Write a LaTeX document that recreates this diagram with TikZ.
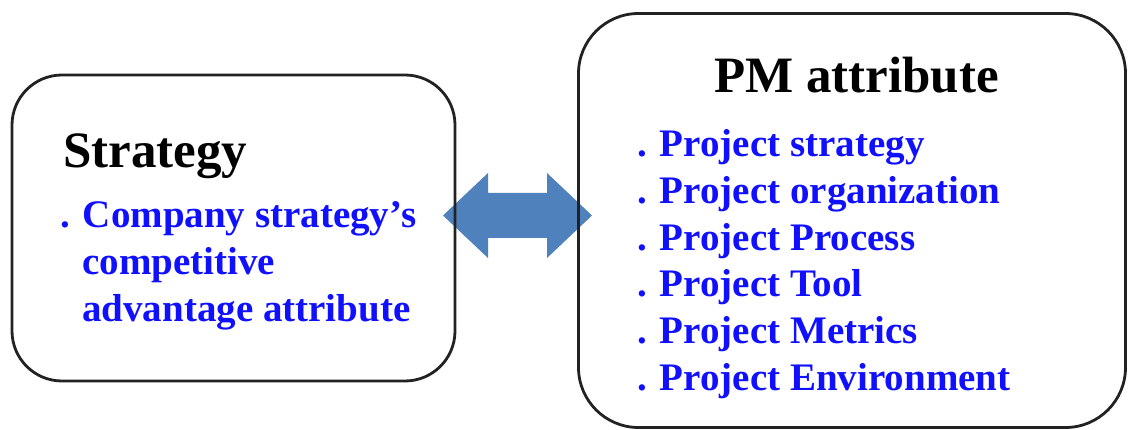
\documentclass[tikz,border=0pt]{standalone}
\usepackage{fontspec}
\setmainfont{Liberation Serif}
\definecolor{arrowblue}{HTML}{4F81BD}
\definecolor{itemblue}{HTML}{1010FF}
\definecolor{boxline}{HTML}{222222}
\begin{document}
\begin{tikzpicture}[x=1pt,y=1pt,
  box/.style={draw=boxline, line width=2.8pt, rounded corners=#1, inner sep=0pt},
  heading/.style={anchor=base west, inner sep=0pt, font=\fontsize{51}{60}\selectfont\bfseries, text=black},
  item/.style={anchor=base west, inner sep=0pt, font=\fontsize{39}{46}\selectfont\bfseries, text=itemblue},
  bigarrow/.style={fill=arrowblue, draw=none}]
\useasboundingbox (0,0) rectangle (1129,-430);
% double arrow (behind the boxes)
\coordinate (arr) at (517.5,-215.5);
\fill[bigarrow] (arr) ++(-74.5,0) -- ++(45,42.5) -- ++(0,-20) -- ++(59,0) -- ++(0,20)
  -- ++(45,-42.5) -- ++(-45,-42.5) -- ++(0,20) -- ++(-59,0) -- ++(0,-20) -- cycle;
% boxes
\node[box=50pt, minimum width=443pt, minimum height=306pt] (left) at (233.5,-228) {};
\node[box=60pt, minimum width=547pt, minimum height=414pt] (right) at (852,-220.5) {};
% left texts
\node[heading] (lhead) at (63,-168) {Strategy};
\node[item] (l1) at (60,-228) {. Company strategy’s};
\node[item] (l2) at (82,-275) {competitive};
\node[item] (l3) at (82,-321) {advantage attribute};
% right texts
\node[heading] (rhead) at (714,-93) {PM attribute};
\node[item] (r1) at (637,-157) {. Project strategy};
\node[item] (r2) at (637,-203.6) {. Project organization};
\node[item] (r3) at (637,-250.2) {. Project Process};
\node[item] (r4) at (637,-296.8) {. Project Tool};
\node[item] (r5) at (637,-343.4) {. Project Metrics};
\node[item] (r6) at (637,-390) {. Project Environment};
\end{tikzpicture}
\end{document}
